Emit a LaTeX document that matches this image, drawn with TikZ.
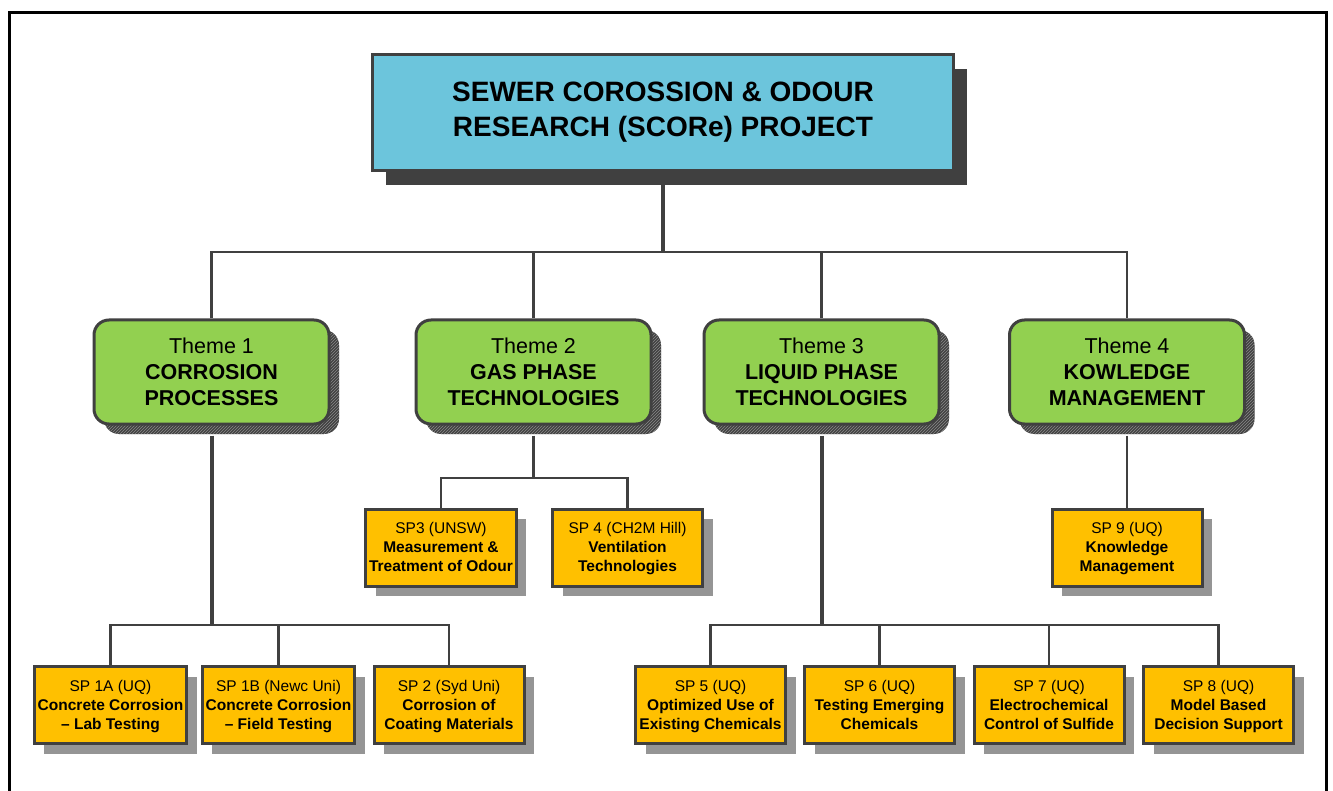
\documentclass[tikz,border=0pt]{standalone}
\usepackage{fontspec}
\setmainfont{Liberation Sans}
\usetikzlibrary{shadows,patterns}
\definecolor{bordc}{HTML}{404040}
\definecolor{bluec}{HTML}{6CC5DC}
\definecolor{greenc}{HTML}{92D050}
\definecolor{orangec}{HTML}{FFC000}
\definecolor{spshad}{HTML}{959595}
\definecolor{hatchc}{HTML}{8A8A8A}
\newcommand\thtop{\rule{0pt}{23.5pt}}
\newcommand\sptop{\rule{0pt}{16.5pt}}
\begin{document}
\begin{tikzpicture}[x=1pt,y=-1pt,
  topbox/.style={rectangle, draw=bordc, line width=3pt, fill=bluec,
    minimum width=581pt, minimum height=116pt, align=center,
    font=\fontsize{28}{35}\selectfont\bfseries,
    general shadow={shadow xshift=13pt, shadow yshift=-15pt, fill=bordc}},
  themebox/.style={rectangle, rounded corners=15pt, draw=bordc, line width=3pt, fill=greenc,
    minimum width=235pt, minimum height=104pt, align=center,
    font=\fontsize{21.5}{26}\selectfont,
    execute at end node={\rule[-8pt]{0pt}{0pt}},
    general shadow={shadow xshift=10pt, shadow yshift=-10pt, fill=bordc},
    general shadow={shadow xshift=10pt, shadow yshift=-10pt, pattern=north east lines, pattern color=hatchc}},
  spbox/.style={rectangle, draw=bordc, line width=3pt, fill=orangec,
    minimum width=150pt, minimum height=77pt, align=center,
    font=\fontsize{15.5}{19}\selectfont,
    execute at end node={\rule[-5.7pt]{0pt}{0pt}},
    general shadow={shadow xshift=10pt, shadow yshift=-10pt, fill=spshad}},
  conn/.style={draw=bordc, line width=2.5pt},
  trunk/.style={draw=bordc, line width=4pt}]
\useasboundingbox (0,0) rectangle (1333,791);
\fill[white] (0,0) rectangle (1333,791);
\draw[line width=3pt, black] (9,791) -- (9,13) -- (1326,13) -- (1326,791);

\coordinate (busA) at (0,252);
\coordinate (busB) at (0,478);
\coordinate (busC) at (0,625);

\node[topbox] (top) at (663,112.5) {SEWER COROSSION \& ODOUR\\RESEARCH (SCORe) PROJECT};
\node[themebox] (t1) at (211.5,372) {\thtop Theme 1\\\textbf{CORROSION}\\\textbf{PROCESSES}};
\node[themebox] (t2) at (533.5,372) {\thtop Theme 2\\\textbf{GAS PHASE}\\\textbf{TECHNOLOGIES}};
\node[themebox] (t3) at (821.5,372) {\thtop Theme 3\\\textbf{LIQUID PHASE}\\\textbf{TECHNOLOGIES}};
\node[themebox] (t4) at (1127,372) {\thtop Theme 4\\\textbf{KOWLEDGE}\\\textbf{MANAGEMENT}};

\node[spbox] (sp1a) at (110.5,705) {\sptop SP 1A (UQ)\\\textbf{Concrete Corrosion}\\\textbf{– Lab Testing}};
\node[spbox] (sp1b) at (278.5,705) {\sptop SP 1B (Newc Uni)\\\textbf{Concrete Corrosion}\\\textbf{– Field Testing}};
\node[spbox] (sp2) at (449,705) {\sptop SP 2 (Syd Uni)\\\textbf{Corrosion of}\\\textbf{Coating Materials}};
\node[spbox] (sp3) at (441,547.5) {\sptop SP3 (UNSW)\\\textbf{Measurement \&}\\\textbf{Treatment of Odour}};
\node[spbox] (sp4) at (627.5,547.5) {\sptop SP 4 (CH2M Hill)\\\textbf{Ventilation}\\\textbf{Technologies}};
\node[spbox] (sp5) at (710.5,705) {\sptop SP 5 (UQ)\\\textbf{Optimized Use of}\\\textbf{Existing Chemicals}};
\node[spbox] (sp6) at (879.5,705) {\sptop SP 6 (UQ)\\\textbf{Testing Emerging}\\\textbf{Chemicals}};
\node[spbox] (sp7) at (1049,705) {\sptop SP 7 (UQ)\\\textbf{Electrochemical}\\\textbf{Control of Sulfide}};
\node[spbox] (sp8) at (1218.5,705) {\sptop SP 8 (UQ)\\\textbf{Model Based}\\\textbf{Decision Support}};
\node[spbox] (sp9) at (1127,547.5) {\sptop SP 9 (UQ)\\\textbf{Knowledge}\\\textbf{Management}};

% top level
\draw[trunk] (top.south) -- (top.south |- busA);
\draw[conn] (t1.north) -- (t1.north |- busA) -- (t4.north |- busA) -- (t4.north);
\draw[conn] (t2.north) -- (t2.north |- busA);
\draw[conn] (t3.north) -- (t3.north |- busA);

% theme 1
\draw[trunk] ([yshift=-10pt]t1.south) -- (t1.south |- busC);
\draw[conn] (sp1a.north) -- (sp1a.north |- busC) -- (sp2.north |- busC) -- (sp2.north);
\draw[conn] (sp1b.north) -- (sp1b.north |- busC);

% theme 2
\draw[conn] ([yshift=-10pt]t2.south) -- (t2.south |- busB);
\draw[conn] (sp3.north) -- (sp3.north |- busB) -- (sp4.north |- busB) -- (sp4.north);

% theme 3
\draw[trunk] ([yshift=-10pt]t3.south) -- (t3.south |- busC);
\draw[conn] (sp5.north) -- (sp5.north |- busC) -- (sp8.north |- busC) -- (sp8.north);
\draw[conn] (sp6.north) -- (sp6.north |- busC);
\draw[conn] (sp7.north) -- (sp7.north |- busC);

% theme 4
\draw[conn] ([yshift=-10pt]t4.south) -- (sp9.north);
\end{tikzpicture}
\end{document}
